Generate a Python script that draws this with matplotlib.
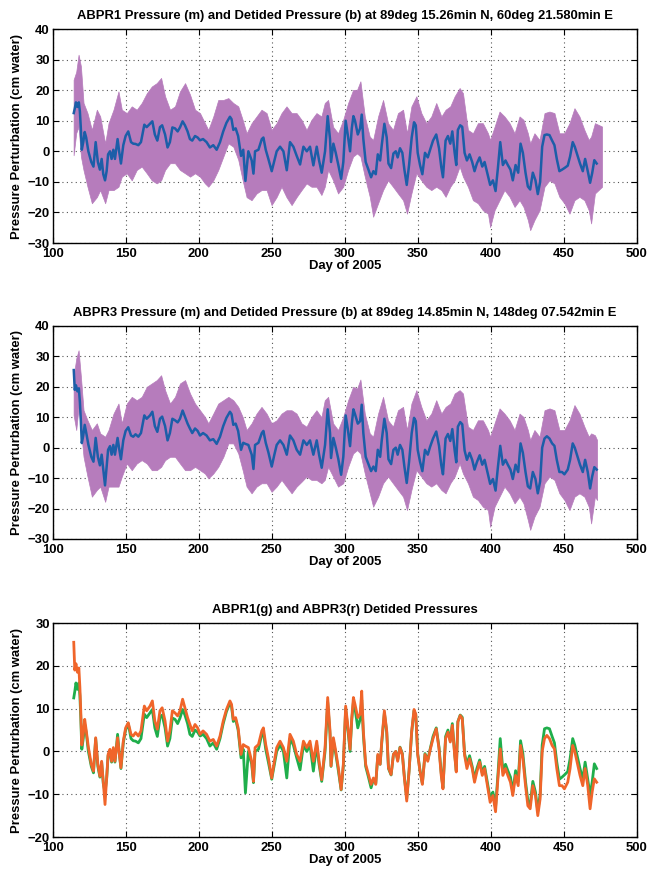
import matplotlib
matplotlib.use("Agg")
from matplotlib import pyplot as plt

plt.rcParams["font.family"] = ["Liberation Sans", "DejaVu Sans"]
plt.rcParams["font.weight"] = "bold"

# detided pressures (cm water)
DAYS = [114.5, 115.2, 116.0, 117.0, 118.0, 118.7, 119.3, 120.0, 121.0, 122.0,
        123.0, 124.5, 126.5, 128.0, 129.5, 131.0, 132.4, 133.6, 134.7, 135.9,
        137.0, 138.0, 139.3, 140.4, 141.6, 142.7, 144.5, 145.7, 146.8, 148.4,
        150.0, 151.8, 153.7, 155.2, 156.8, 158.7, 160.5, 162.8, 164.4, 166.7,
        168.3, 170.0, 171.7, 173.5, 175.0, 177.0, 178.7, 180.3, 182.0, 183.8,
        185.6, 187.2, 189.0, 190.6, 192.4, 194.0, 195.6, 197.5, 199.3, 200.9,
        203.0, 205.4, 207.7, 210.0, 212.3, 214.6, 216.8, 219.0, 221.4, 222.5,
        223.7, 225.3, 227.0, 229.0, 230.5, 232.0, 234.0, 236.3, 237.5, 238.6,
        240.9, 243.2, 244.3, 245.9, 247.7, 250.0, 251.8, 253.4, 255.7, 258.0,
        260.3, 262.5, 264.8, 267.1, 269.4, 271.7, 274.0, 276.2, 278.5, 280.8,
        282.4, 284.2, 286.5, 288.3, 289.9, 290.6, 292.2, 293.8, 295.6, 297.5,
        299.0, 300.6, 302.0, 303.6, 304.8, 305.9, 307.0, 308.9, 310.5, 311.6,
        312.7, 314.3, 316.2, 318.0, 319.6, 321.2, 322.6, 324.2, 325.3, 327.1,
        328.7, 329.9, 331.7, 333.3, 334.9, 336.2, 337.8, 339.4, 340.8, 342.4,
        344.0, 345.8, 347.4, 348.6, 349.9, 351.5, 353.1, 354.9, 356.8, 358.4,
        360.4, 362.6, 364.5, 366.0, 367.2, 369.0, 370.6, 372.2, 373.6, 375.2,
        376.3, 377.4, 379.0, 380.4, 382.0, 383.6, 385.4, 387.2, 388.8, 390.4,
        392.3, 394.1, 395.7, 398.0, 399.5, 401.4, 403.2, 404.8, 406.4, 408.2,
        410.0, 411.6, 413.4, 415.0, 416.9, 418.7, 420.3, 421.9, 423.7, 425.3,
        426.9, 428.7, 430.5, 432.1, 433.7, 435.1, 436.7, 438.3, 440.1, 441.9,
        443.5, 445.1, 446.9, 448.7, 450.3, 452.6, 454.2, 456.0, 457.4, 459.5,
        461.0, 462.9, 464.5, 466.3, 467.9, 469.3, 470.8, 472.4]

ABPR3_DETIDED = [25.5, 19.0, 20.5, 18.5, 19.5, 15.0, 9.5, 1.5, 4.0, 7.5,
                 5.0, 1.0, -3.0, -4.6, 3.2, -3.0, -5.8, -2.3, -7.0, -12.4,
                 -6.2, -0.7, 0.5, -2.3, 0.9, -2.3, 3.2, -0.7, -3.8, 2.4,
                 5.5, 6.7, 4.0, 3.6, 4.4, 3.6, 4.8, 10.6, 9.5, 10.6,
                 11.8, 7.1, 5.2, 9.5, 10.2, 7.1, 2.4, 4.8, 9.5, 9.0,
                 8.3, 9.5, 12.2, 10.2, 7.9, 6.3, 4.8, 6.3, 5.5, 4.0,
                 4.8, 4.0, 2.4, 2.8, 1.25, 3.6, 7.1, 9.8, 11.8, 11.0,
                 7.5, 7.9, 5.5, -0.7, 1.6, 1.25, 0.9, -2.3, -7.0, 0.9,
                 1.6, 4.8, 5.5, 1.6, -1.5, -6.2, -2.3, 0.9, 2.4, 0.9,
                 -2.3, 4.0, 2.4, -0.7, -2.3, 2.4, 0.9, 2.4, -2.3, 2.4,
                 -2.3, -6.6, 0.9, 12.6, 4.8, -3.4, 3.2, 0.1, -3.8, -8.9,
                 -3.0, 10.6, 6.3, 0.5, 7.9, 12.6, 11.0, 7.9, 8.7, 14.1,
                 4.8, -3.0, -5.4, -7.7, -6.2, -7.7, -0.7, -3.0, 2.4, 9.5,
                 4.8, -3.8, -5.4, -0.7, 0.0, -2.3, 0.9, -0.7, -6.2, -11.6,
                 -4.6, 4.8, 9.8, 8.7, -0.7, -4.6, -7.7, -0.7, -2.3, 0.3,
                 3.0, 5.3, 0.6, -5.6, -8.75, 3.0, 4.5, 2.2, 6.1, -0.9,
                 -4.8, 6.9, 8.4, 7.7, -0.9, -4.0, -1.7, -4.0, -7.2, -4.8,
                 -2.5, -5.6, -4.0, -8.75, -11.9, -10.3, -14.1, -6.4, 0.6, -5.6,
                 -4.0, -5.6, -7.2, -10.3, -5.6, -8.0, 1.4, -1.7, -8.0, -12.7,
                 -13.4, -8.0, -10.3, -15.0, -11.1, 0.0, 3.0, 3.75, 3.0, 1.4,
                 0.6, -4.0, -8.0, -8.0, -8.75, -7.2, -4.0, 1.4, 0.0, -3.3,
                 -5.6, -8.0, -4.0, -8.0, -13.4, -9.5, -6.4, -7.2]

ABPR1_DETIDED = [12.5, 14.0, 16.0, 14.5, 16.0, 13.0, 8.0, 0.5, 3.0, 6.3,
                 4.5, 0.0, -3.5, -5.0, 3.0, -3.5, -6.0, -2.5, -7.5, -9.5,
                 -6.5, -1.0, 0.0, -2.5, 0.5, -2.5, 4.0, -0.5, -4.0, 2.0,
                 5.0, 6.5, 3.0, 2.5, 2.4, 2.0, 3.0, 8.7, 7.9, 9.0,
                 9.8, 5.5, 3.5, 7.9, 8.5, 5.5, 1.25, 3.0, 7.8, 7.5,
                 6.5, 7.8, 9.8, 8.5, 6.5, 4.0, 3.5, 5.0, 4.5, 3.6,
                 4.0, 3.0, 1.25, 2.0, 0.5, 3.0, 6.5, 9.3, 11.3, 10.5,
                 7.0, 7.5, 5.0, -1.5, 0.5, -9.7, 0.0, -3.0, -7.3, 0.0,
                 0.5, 4.0, 4.5, 0.5, -2.5, -6.5, -3.0, 0.0, 1.5, 0.0,
                 -6.2, 3.0, 1.5, -1.5, -4.3, 1.5, 0.0, 1.5, -4.6, 1.5,
                 -3.0, -7.0, 0.0, 11.5, 4.0, -3.5, 2.5, -0.5, -4.5, -9.0,
                 -3.5, 10.0, 5.5, 0.0, 7.5, 11.5, 10.0, 5.5, 7.5, 12.0,
                 4.0, -3.5, -6.0, -8.5, -6.5, -7.5, -1.0, -3.0, 2.0, 9.0,
                 4.5, -4.0, -5.5, -0.7, 0.0, -2.0, 1.0, -0.5, -6.0, -11.0,
                 -4.5, 4.5, 9.5, 8.5, -0.5, -4.5, -7.5, -0.5, -2.0, 0.5,
                 3.5, 5.5, 1.0, -5.0, -8.5, 3.5, 5.0, 2.5, 6.5, -0.5,
                 -4.5, 7.0, 8.5, 8.0, -0.5, -3.0, -1.0, -3.5, -6.5, -4.0,
                 -2.0, -5.0, -3.5, -8.0, -11.0, -9.5, -13.0, -5.5, 3.0, -4.5,
                 -3.0, -4.5, -6.0, -9.5, -4.5, -7.0, 2.5, -0.5, -7.0, -11.5,
                 -12.5, -7.0, -9.5, -14.0, -10.0, 1.5, 5.3, 5.5, 5.3, 3.5,
                 2.0, -2.5, -6.5, -6.0, -5.5, -4.7, -1.7, 3.0, 1.5, -1.7,
                 -4.0, -6.5, -2.5, -6.5, -10.3, -7.2, -2.9, -4.0]

# raw (tidal) pressure envelopes
ENV_DAYS = [114.4, 116.2, 117.8, 119.4, 121.2, 123.9, 126.9, 130.3, 132.6, 136.0,
            138.3, 141.7, 145.1, 147.4, 150.8, 154.2, 157.6, 161.0, 164.5, 167.9,
            171.3, 174.3, 177.0, 180.4, 183.8, 187.2, 190.7, 194.1, 197.5, 200.9,
            204.3, 206.6, 210.0, 213.4, 216.9, 220.3, 223.7, 227.1, 230.1, 232.8,
            236.2, 239.6, 243.0, 246.5, 249.9, 253.3, 256.7, 260.1, 263.6, 267.0,
            270.4, 273.8, 277.2, 280.6, 284.0, 286.3, 288.6, 292.0, 295.4, 298.9,
            302.3, 305.7, 308.4, 310.7, 313.7, 317.1, 319.4, 322.8, 326.2, 329.6,
            333.0, 336.4, 339.9, 342.6, 345.6, 349.0, 352.4, 355.8, 359.2, 362.6,
            366.1, 369.0, 372.2, 375.2, 378.6, 380.9, 384.3, 387.7, 391.1, 394.5,
            398.0, 399.5, 402.5, 405.9, 409.3, 412.8, 416.2, 419.6, 422.3, 425.3,
            426.9, 429.8, 433.3, 436.7, 440.1, 443.5, 446.9, 450.3, 453.8, 457.2,
            460.6, 464.0, 467.0, 468.6, 471.2]

ABPR1_UPPER = [23.4, 26.0, 31.6, 27.8, 15.8, 12.5, 7.0, 13.6, 11.4, 2.6,
               9.2, 13.6, 19.6, 13.6, 12.5, 14.7, 13.6, 15.8, 19.0, 21.2,
               22.3, 24.0, 18.0, 13.6, 14.7, 19.6, 22.3, 18.5, 13.6, 12.5,
               9.2, 7.0, 11.4, 16.8, 16.8, 17.4, 15.8, 14.7, 10.3, 5.9,
               9.2, 11.4, 13.6, 12.5, 7.0, 9.2, 12.5, 14.7, 12.5, 12.5,
               10.3, 7.0, 10.3, 12.5, 11.4, 15.8, 16.8, 8.0, 5.9, 10.3,
               15.8, 20.1, 20.1, 22.9, 11.4, 4.8, 3.7, 11.4, 16.8, 9.2,
               7.0, 12.5, 13.6, 5.9, 14.7, 18.0, 12.5, 9.2, 11.4, 15.8,
               11.4, 13.6, 14.7, 18.0, 20.7, 19.0, 7.0, 5.9, 9.2, 9.2,
               5.9, 3.7, 8.0, 13.0, 11.4, 9.2, 5.9, 11.4, 10.3, 5.9,
               2.6, 5.9, 3.7, 12.5, 13.0, 12.5, 5.9, 5.9, 9.2, 14.1,
               11.4, 7.0, 3.7, 4.8, 9.2]
ABPR1_LOWER = [-1.3, 6.0, 8.0, -1.7, -6.2, -11.6, -17.0, -15.0, -12.7, -17.0,
               -12.7, -12.7, -11.6, -8.3, -7.2, -9.5, -6.1, -5.0, -7.2, -9.5,
               -10.5, -9.5, -6.1, -3.9, -3.9, -6.1, -7.2, -8.3, -7.2, -8.3,
               -10.5, -11.6, -9.5, -6.1, -1.7, 2.6, 1.5, -2.8, -9.5, -15.0,
               -16.0, -13.8, -12.7, -12.7, -17.6, -15.0, -11.6, -15.0, -17.6, -15.0,
               -12.7, -10.5, -11.6, -11.6, -14.3, -11.6, -6.1, -9.5, -13.8, -11.6,
               -6.1, -1.7, -0.7, -1.7, -8.3, -14.9, -21.4, -17.0, -12.7, -9.5,
               -11.6, -13.8, -16.0, -20.4, -13.8, -7.2, -9.5, -11.6, -12.7, -11.6,
               -12.7, -14.9, -11.6, -9.5, -5.0, -8.3, -11.6, -16.0, -17.0, -19.3,
               -20.4, -24.8, -19.3, -16.0, -12.7, -14.9, -18.2, -16.0, -18.2, -22.5,
               -25.8, -22.5, -19.3, -11.6, -9.5, -10.5, -14.9, -17.0, -20.4, -16.0,
               -14.9, -16.0, -19.3, -23.6, -13.8]

ABPR3_UPPER = [23.3, 29.3, 32.0, 23.3, 12.3, 9.0, 5.8, 8.0, 4.7, 3.6,
               5.8, 11.2, 14.5, 8.0, 14.5, 16.7, 15.6, 16.7, 20.0, 21.1,
               22.2, 23.8, 18.9, 14.5, 16.7, 21.1, 22.2, 17.8, 14.5, 12.3,
               10.1, 8.0, 11.2, 14.5, 15.6, 16.7, 15.6, 13.4, 10.1, 5.8,
               8.0, 11.2, 13.4, 11.2, 8.0, 9.0, 11.2, 12.3, 12.3, 11.2,
               8.0, 6.9, 10.1, 12.3, 10.0, 15.6, 16.7, 8.0, 5.8, 10.1,
               15.6, 20.0, 19.4, 22.4, 11.2, 4.7, 3.6, 11.2, 16.7, 9.0,
               6.9, 12.3, 13.4, 5.8, 14.5, 18.9, 13.4, 9.0, 11.2, 15.6,
               11.2, 13.4, 14.5, 17.8, 18.9, 17.8, 6.9, 5.8, 9.0, 9.0,
               5.8, 3.6, 8.0, 12.9, 11.2, 9.0, 5.8, 11.2, 10.1, 5.8,
               2.5, 5.8, 3.6, 12.3, 12.9, 12.3, 5.8, 5.8, 9.0, 14.0,
               11.2, 6.9, 3.6, 4.7, 4.1]
ABPR3_LOWER = [10.7, 5.8, 13.4, 5.8, -3.0, -9.5, -16.1, -13.9, -12.8, -17.8,
               -12.8, -12.8, -12.8, -9.5, -5.2, -7.4, -5.2, -4.1, -5.2, -7.4,
               -7.4, -6.3, -4.1, -3.0, -3.0, -5.2, -7.4, -7.4, -6.3, -7.4,
               -8.5, -10.1, -8.5, -6.3, -3.0, 1.4, 1.4, -1.9, -7.4, -12.8,
               -15.0, -12.8, -11.7, -11.7, -14.5, -12.8, -10.6, -12.8, -15.0, -12.8,
               -11.2, -9.5, -10.6, -10.6, -11.7, -10.6, -6.3, -9.5, -12.8, -11.7,
               -6.3, -1.9, -0.8, -1.9, -8.5, -15.0, -19.4, -16.1, -11.7, -9.5,
               -11.7, -13.9, -16.1, -20.5, -13.9, -7.4, -9.5, -11.7, -12.8, -11.7,
               -13.9, -15.0, -11.7, -9.5, -5.2, -8.5, -11.7, -16.1, -17.2, -19.4,
               -20.5, -26.0, -19.4, -16.1, -12.8, -15.0, -18.3, -16.1, -18.3, -23.8,
               -27.0, -22.7, -19.4, -11.7, -9.5, -10.6, -15.0, -17.2, -20.5, -16.1,
               -15.0, -16.1, -19.4, -24.9, -16.1]

# tails of the raw records (ABPR1 runs a little longer)
ABPR1_TAIL = (476.1, 8.1, -11.6)
ABPR3_TAIL = (472.7, 2.5, -17.2)

TITLES = [
    "ABPR1 Pressure (m) and Detided Pressure (b) at 89deg 15.26min N, 60deg 21.580min E",
    "ABPR3 Pressure (m) and Detided Pressure (b) at 89deg 14.85min N, 148deg 07.542min E",
    "ABPR1(g) and ABPR3(r) Detided Pressures",
]

PINK = "#b67cbc"
BLUE = "#1c5ea8"
GREEN = "#1fae4b"
ORANGE = "#f0652a"
FS = 9.4


def style(ax, ylim, yticks, title):
    ax.set_xlim(100, 500)
    ax.set_xticks(range(100, 501, 50))
    ax.set_ylim(*ylim)
    ax.set_yticks(yticks)
    ax.grid(True, linestyle=(0, (1, 3)), color="#555555", linewidth=0.8)
    ax.tick_params(direction="in", top=True, right=True, length=4,
                   width=0.8, labelsize=FS)
    ax.tick_params(axis="x", pad=3.5)
    ax.tick_params(axis="y", pad=2)
    for sp in ax.spines.values():
        sp.set_linewidth(1.0)
    ax.set_xlabel("Day of 2005", fontsize=FS, fontweight="bold", labelpad=0)
    ax.set_ylabel("Pressure Perturbation (cm water)", fontsize=FS,
                  fontweight="bold", labelpad=3)
    ax.set_title(title, fontsize=FS, fontweight="bold", pad=7)


def main() -> None:
    fig = plt.figure(figsize=(6.49, 8.71), dpi=100)
    left, width = 0.081, 0.9005
    ax1 = fig.add_axes([left, 0.721, width, 0.2457])
    ax2 = fig.add_axes([left, 0.3812, width, 0.2446])
    ax3 = fig.add_axes([left, 0.039, width, 0.2457])

    for ax, upper, lower, tail, detided, title in [
        (ax1, ABPR1_UPPER, ABPR1_LOWER, ABPR1_TAIL, ABPR1_DETIDED, TITLES[0]),
        (ax2, ABPR3_UPPER, ABPR3_LOWER, ABPR3_TAIL, ABPR3_DETIDED, TITLES[1]),
    ]:
        d = ENV_DAYS + [tail[0]]
        ax.fill_between(d, lower + [tail[2]], upper + [tail[1]],
                        color=PINK, linewidth=0.5, edgecolor=PINK, zorder=2)
        ax.plot(DAYS, detided, color=BLUE, linewidth=1.8, zorder=3)
        style(ax, (-30, 40), range(-30, 41, 10), title)

    ax3.plot(DAYS, ABPR1_DETIDED, color=GREEN, linewidth=2.0, zorder=2)
    ax3.plot(DAYS, ABPR3_DETIDED, color=ORANGE, linewidth=2.0, zorder=3)
    style(ax3, (-20, 30), range(-20, 31, 10), TITLES[2])

    fig.savefig("out.png", dpi=100)


if __name__ == "__main__":
    main()
